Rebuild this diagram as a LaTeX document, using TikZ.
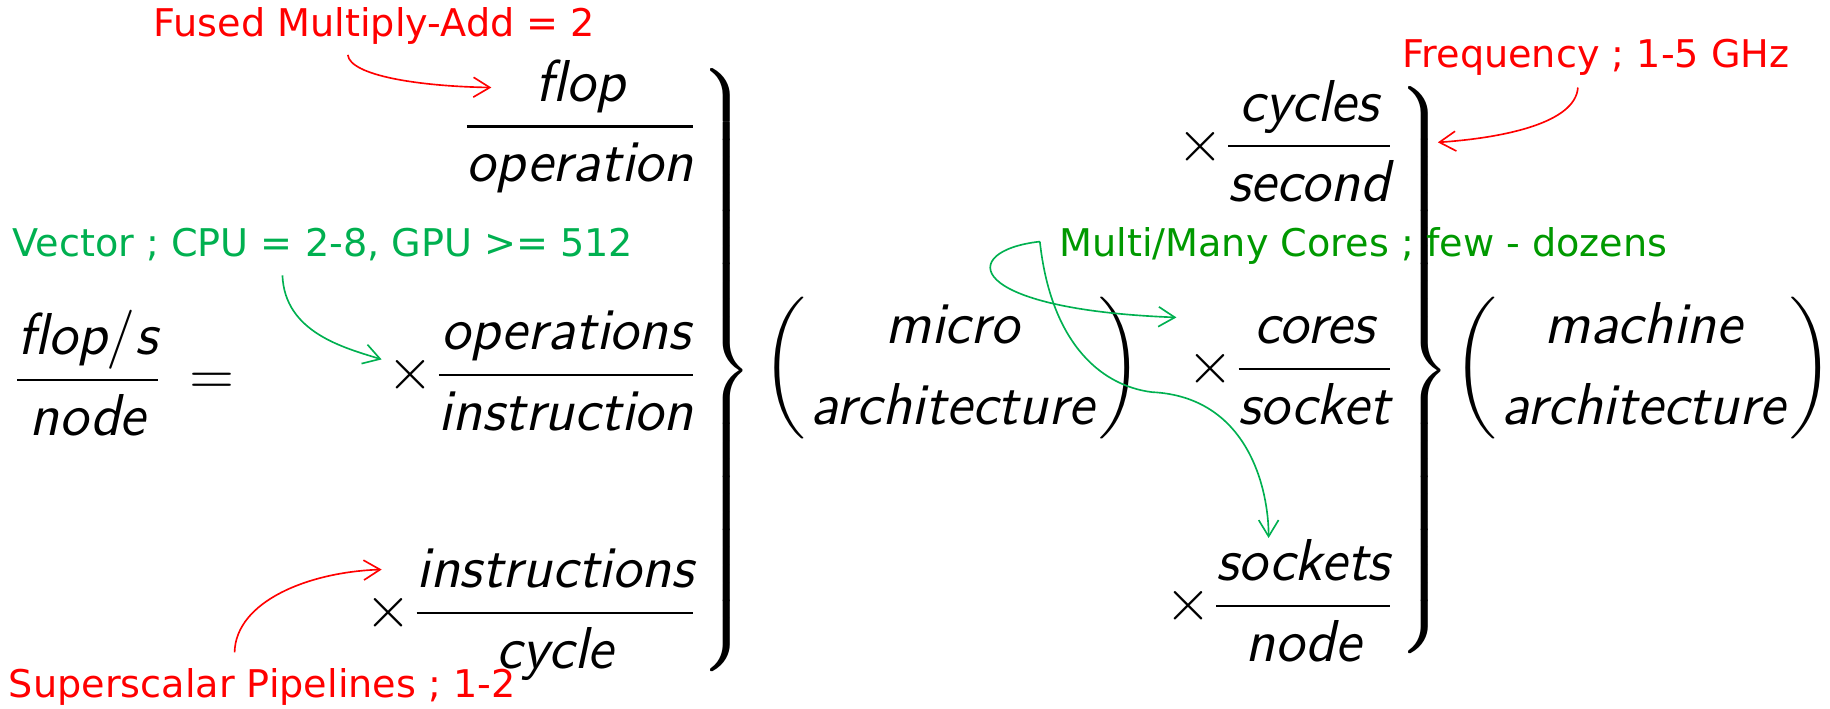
\documentclass[tikz,border=0pt]{standalone}
\usepackage{amsmath}
\usepackage{fontspec}
\usetikzlibrary{arrows.meta}
\newfontfamily\notefont{DejaVu Sans}
\definecolor{notered}{RGB}{255,0,0}
\definecolor{notegreen}{RGB}{0,176,80}
\definecolor{coregreen}{RGB}{0,153,0}
\newcommand\mt[1]{\textsf{\itshape #1}}
\newcommand\tallbrace[1]{\left.\vcenter{\hbox{\rule{0pt}{#1}}}\right\}}
\newcommand\archgroup[1]{{\left(\vcenter{\hbox{\rule{0pt}{1.2cm}}}\right.}\begin{array}{@{}c@{}}\mt{#1}\\\mt{architecture}\end{array}{\left.\vcenter{\hbox{\rule{0pt}{1.2cm}}}\right)}}
\renewcommand\arraystretch{1.15}
\delimiterfactor=1000
\delimitershortfall=0pt

\begin{document}
\begin{tikzpicture}[x=0.01cm,y=-0.01cm,
		eqn/.style={inner sep=0pt,font=\fontsize{14.4}{17}\selectfont},
		note/.style={inner sep=0pt,font=\notefont\fontsize{9.3}{11}\selectfont},
		hint/.style={line width=0.4pt,-{Straight Barb[length=1.4mm,width=1.7mm]}}]
			\useasboundingbox (0,0) rectangle (1568,607);
			\node[eqn,anchor=base west] (lhs) at (10,338) {$\dfrac{\mt{flop}/\mt{s}}{\mt{node}}$};
			\node[eqn,anchor=base] (eq) at (182,338) {$=$};
			\node[eqn,anchor=base east] (fop) at (599,121) {$\dfrac{\mt{flop}}{\mt{operation}}$};
			\node[eqn,anchor=base east] (opi) at (599,334) {$\times\dfrac{\mt{operations}}{\mt{instruction}}$};
			\node[eqn,anchor=base east] (ipc) at (599,538) {$\times\dfrac{\mt{instructions}}{\mt{cycle}}$};
			\node[eqn,anchor=base west] (brA) at (595,330) {$\tallbrace{5.14cm}$};
			\node[eqn,anchor=base] (micro) at (816,328) {$\archgroup{micro}$};
			\node[eqn,anchor=base east] (cps) at (1196,138) {$\times\dfrac{\mt{cycles}}{\mt{second}}$};
			\node[eqn,anchor=base east] (cpk) at (1196,329) {$\times\dfrac{\mt{cores}}{\mt{socket}}$};
			\node[eqn,anchor=base east] (spn) at (1196,532) {$\times\dfrac{\mt{sockets}}{\mt{node}}$};
			\node[eqn,anchor=base west] (brB) at (1193,330) {$\tallbrace{4.82cm}$};
			\node[eqn,anchor=base] (machine) at (1408,328) {$\archgroup{machine}$};
			\node[note,text=notered,anchor=base west] (fma) at (131,31) {Fused Multiply-Add = 2};
			\node[note,text=notegreen,anchor=base west] (vec) at (10,220) {Vector ; CPU = 2-8, GPU >= 512};
			\node[note,text=notered,anchor=base west] (ssp) at (7,598) {Superscalar Pipelines ; 1-2};
			\node[note,text=notered,anchor=base west] (freq) at (1201,58) {Frequency ; 1-5 GHz};
			\node[note,text=coregreen,anchor=base west] (mcore) at (907,220) {Multi/Many Cores ; few - dozens};
			\draw[hint,notered] ([shift={(167,16)}]fma.base west) .. controls (300,65) and (360,74) .. ([shift={(-178,-46)}]fop.base east);
			\draw[hint,notegreen] ([shift={(232,16)}]vec.base west) .. controls (244,285) and (295,298) .. ([shift={(-272,-26)}]opi.base east);
			\draw[hint,notered] ([shift={(194,-39)}]ssp.base west) .. controls (202,515) and (265,490) .. ([shift={(-272,-50)}]ipc.base east);
			\draw[hint,notered] ([shift={(151,17)}]freq.base west) .. controls (1350,105) and (1290,118) .. ([shift={(39,-208)}]brB.base west);
			\draw[hint,notegreen] ([shift={(-16,-13)}]mcore.base west) .. controls (820,215) and (825,265) .. ([shift={(-188,-57)}]cpk.base east);
			\draw[hint,notegreen] ([shift={(-16,-13)}]mcore.base west) .. controls (900,290) and (940,330) .. (987,336) .. controls (1070,340) and (1087,420) .. ([shift={(-109,-71)}]spn.base east);
		\end{tikzpicture}
\end{document}
